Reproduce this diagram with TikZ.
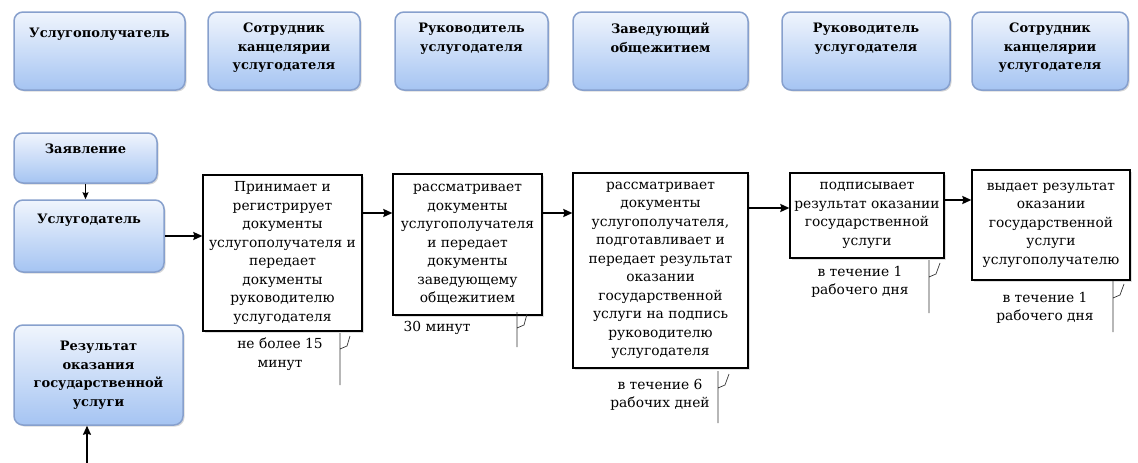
\documentclass[tikz,border=0pt]{standalone}
\usepackage{fontspec}
\setmainfont{DejaVu Serif}
\usetikzlibrary{arrows, arrows.meta, positioning, shadows}
\definecolor{lanetop}{RGB}{240,245,253}
\definecolor{lanebot}{RGB}{165,196,242}
\definecolor{laneline}{RGB}{135,160,205}
\tikzset{
  lane/.style = {draw=laneline, rounded corners=9pt, top color=lanetop,
    bottom color=lanebot, inner sep=0pt,
    drop shadow={opacity=0.3, shadow xshift=1.5pt, shadow yshift=-1.5pt}},
  lanetxt/.style = {anchor=north, align=center,
    font=\fontsize{13}{18.5}\selectfont\bfseries},
  lanebox/.style = {lane, align=center,
    font=\fontsize{13}{18.5}\selectfont\bfseries},
  act/.style = {draw=black, line width=1.3pt, fill=white, align=center,
    inner sep=1.5pt, font=\fontsize{13.8}{18.5}\selectfont,
    drop shadow={opacity=0.25, shadow xshift=1.5pt, shadow yshift=-1.5pt}},
  term/.style = {align=center, font=\fontsize{13.8}{18.5}\selectfont},
  tick/.style = {draw=black!80, line width=0.7pt}
}

\begin{document}
\begin{tikzpicture}[x=1pt, y=-1pt, ->, >={Stealth[length=9pt, width=8pt, inset=1pt]}, line width=1.5pt]
\useasboundingbox (0,0) rectangle (1138,463);

% swimlane headers
\node [lane, minimum width=171pt, minimum height=78pt,
  label={[lanetxt, yshift=-13pt]north:Услугополучатель}] (h1) at (99.5,51) {};
\node [lane, minimum width=152pt, minimum height=78pt,
  label={[lanetxt, yshift=-8pt]north:{Сотрудник\\канцелярии\\услугодателя}}] (h2) at (284,51) {};
\node [lane, minimum width=153pt, minimum height=78pt,
  label={[lanetxt, yshift=-8pt]north:{Руководитель\\услугодателя}}] (h3) at (471.5,51) {};
\node [lane, minimum width=175pt, minimum height=78pt,
  label={[lanetxt, yshift=-8pt]north:{Заведующий\\общежитием}}] (h4) at (660.5,51) {};
\node [lane, minimum width=168pt, minimum height=78pt,
  label={[lanetxt, yshift=-8pt]north:{Руководитель\\услугодателя}}] (h5) at (866,51) {};
\node [lane, minimum width=156pt, minimum height=78pt,
  label={[lanetxt, yshift=-8pt]north:{Сотрудник\\канцелярии\\услугодателя}}] (h6) at (1050,51) {};

% left column
\node [lane, minimum width=143pt, minimum height=50pt,
  label={[lanetxt, yshift=-8pt]north:Заявление}] (zayav) at (85.5,158) {};
\node [lane, minimum width=150pt, minimum height=72pt,
  label={[lanetxt, yshift=-11pt]north:Услугодатель}] (uslug) at (89,236) {};
\node [lanebox, minimum width=169pt, minimum height=100pt] (result) at (98.5,375)
  {Результат\\оказания\\государственной\\услуги};
\coordinate (resin) at (87,463);

% process steps
\node [act, minimum width=159pt, minimum height=156pt] (b1) at (282.5,253)
  {Принимает и\\регистрирует\\документы\\услугополучателя и\\передает\\документы\\руководителю\\услугодателя};
\node [act, minimum width=149pt, minimum height=141pt] (b2) at (467.5,244.5)
  {рассматривает\\документы\\услугополучателя\\и передает\\документы\\заведующему\\общежитием};
\node [act, minimum width=175pt, minimum height=195pt] (b3) at (660.5,270.5)
  {рассматривает\\документы\\услугополучателя,\\подготавливает и\\передает результат\\оказании\\государственной\\услуги на подпись\\руководителю\\услугодателя};
\node [act, minimum width=154pt, minimum height=85pt] (b4) at (867,215.5)
  {подписывает\\результат оказании\\государственной\\услуги};
\node [act, minimum width=158pt, minimum height=110pt] (b5) at (1051,225)
  {выдает результат\\оказании\\государственной\\услуги\\услугополучателю};

% time limits
\node [term] (t1) at (280,354) {не более 15\\минут};
\node [term] (t2) at (437,328) {30 минут};
\node [term] (t3) at (660,395) {в течение 6\\рабочих дней};
\node [term] (t4) at (860,282) {в течение 1\\рабочего дня};
\node [term] (t5) at (1045,308) {в течение 1\\рабочего дня};

% connectors
\draw [line width=0.9pt, >={Stealth[length=7pt, width=6pt, inset=1pt]}] (zayav.south) -- (zayav.south |- uslug.north);
\draw (uslug.east) -- (b1.west |- uslug.east);
\draw (b1.east |- 0,213) -- (b2.west |- 0,213);
\draw (b2.east |- 0,213) -- (b3.west |- 0,213);
\draw (b3.east |- 0,208) -- (b4.west |- 0,208);
\draw (b4.east |- 0,200) -- (b5.west |- 0,200);
\draw (resin) -- (resin |- result.south);

% callout marks
\draw [tick, -] (340,333) -- (340,385) (340,349) -- (347,346) -- (350,336);
\draw [tick, -] (517,312) -- (517,347) (517,328) -- (524,325) -- (527,314);
\draw [tick, -] (718,371) -- (718,423) (718,388) -- (725,385) -- (729,374);
\draw [tick, -] (929,260) -- (929,313) (929,277) -- (936,274) -- (940,263);
\draw [tick, -] (1113,281) -- (1113,332) (1113,298) -- (1120,295) -- (1124,284);
\end{tikzpicture}
\end{document}
